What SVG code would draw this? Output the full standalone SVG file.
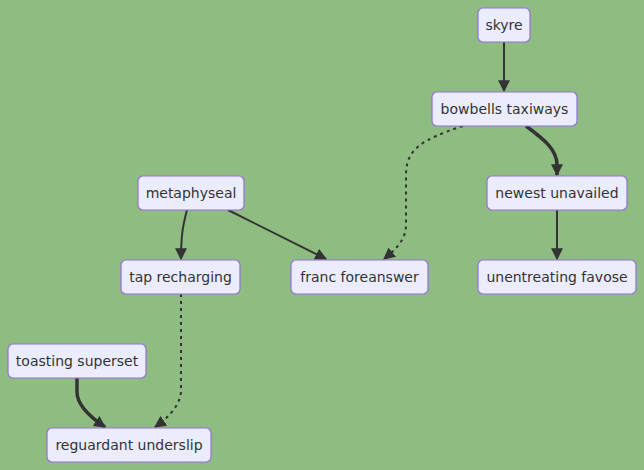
<svg xmlns="http://www.w3.org/2000/svg" width="644" height="470" viewBox="0 0 644 470">
<style>
.node rect{fill:#ECECFF;stroke:#9370DB;stroke-width:1.2}
.node text{font-family:"DejaVu Sans",Verdana,sans-serif;font-size:14px;fill:#333;text-anchor:middle;dominant-baseline:central}
.e{fill:none;stroke:#333;stroke-width:2}
.thick{stroke-width:3.5}
.dot{stroke-dasharray:3 4}
</style>
<defs>
<marker id="ah" viewBox="0 0 10 10" refX="9" refY="5" markerUnits="userSpaceOnUse" markerWidth="12" markerHeight="12" orient="auto">
<path d="M0,0 L10,5 L0,10 z" fill="#333"/>
</marker>
</defs>
<rect width="644" height="470" fill="#8fbc81"/>
<g id="edges">
<path class="e" d="M504,42 L504,91" marker-end="url(#ah)"/>
<path class="e thick" d="M526,126 C545,140 557,150 557,165 L557,175" marker-end="url(#ah)"/>
<path class="e" d="M557,210 L557,259" marker-end="url(#ah)"/>
<path class="e dot" d="M463,126 C420,140 406,150 406,175 L406,225 C406,240 395,250 384,259" marker-end="url(#ah)"/>
<path class="e" d="M187,210 C183,225 181,235 181,259" marker-end="url(#ah)"/>
<path class="e" d="M228,210 L326,259" marker-end="url(#ah)"/>
<path class="e dot" d="M181,294 L181,390 C181,405 168,418 155,427" marker-end="url(#ah)"/>
<path class="e thick" d="M77,378 L77,392 C77,405 90,417 105,427" marker-end="url(#ah)"/>
</g>
<g id="skyre" class="node"><rect x="478" y="8" width="52" height="34" rx="5"/><text x="504" y="25">skyre</text></g>
<g id="bowbells" class="node"><rect x="432" y="92" width="145" height="34" rx="5"/><text x="504.5" y="109">bowbells taxiways</text></g>
<g id="newest" class="node"><rect x="487" y="176" width="140" height="34" rx="5"/><text x="557" y="193">newest unavailed</text></g>
<g id="unentreating" class="node"><rect x="478" y="260" width="158" height="34" rx="5"/><text x="557" y="277">unentreating favose</text></g>
<g id="metaphyseal" class="node"><rect x="138" y="176" width="106" height="34" rx="5"/><text x="191" y="193">metaphyseal</text></g>
<g id="tap" class="node"><rect x="121" y="260" width="119" height="34" rx="5"/><text x="180.5" y="277">tap recharging</text></g>
<g id="franc" class="node"><rect x="291" y="260" width="137" height="34" rx="5"/><text x="359.5" y="277">franc foreanswer</text></g>
<g id="toasting" class="node"><rect x="8" y="344" width="138" height="34" rx="5"/><text x="77" y="361">toasting superset</text></g>
<g id="reguardant" class="node"><rect x="47" y="428" width="164" height="34" rx="5"/><text x="129" y="445">reguardant underslip</text></g>
</svg>
